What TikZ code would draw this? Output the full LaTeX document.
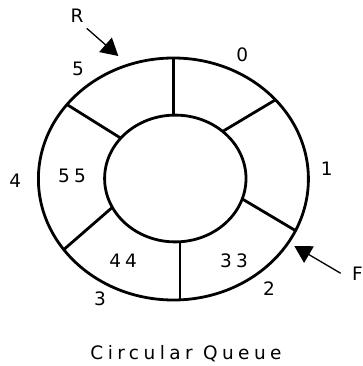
\documentclass[tikz,border=0pt]{standalone}
\usepackage{fontspec}
\setmainfont{DejaVu Sans}
\usetikzlibrary{arrows.meta,calc}
\begin{document}
\begin{tikzpicture}[x=1pt,y=-1pt,
  ring/.style={line width=2.8pt},
  lbl/.style={inner sep=0pt, font=\fontsize{18.5}{22}\selectfont},
  val/.style={inner sep=0pt, font=\fontsize{18.5}{22}\selectfont\addfontfeature{LetterSpace=22}},
  captext/.style={inner sep=0pt, font=\fontsize{18.5}{22}\selectfont\addfontfeature{LetterSpace=24}},
  ptr/.style={line width=1.3pt, -{Triangle[length=17pt,width=19pt]}}]
\useasboundingbox (0,0) rectangle (363,366);
% spokes, clipped to the outer ellipse
\begin{scope}
  \clip (173.4,179) ellipse [x radius=135pt, y radius=121pt];
  \coordinate (p1) at (173.5,57.7);  \coordinate (q1) at (173.5,115);
  \coordinate (p2) at (274,100.7);   \coordinate (q2) at (226.7,129);
  \coordinate (p3) at (293.3,229.3); \coordinate (q3) at (245.7,201);
  \coordinate (p4) at (180,300);     \coordinate (q4) at (180,241.7);
  \coordinate (p5) at (63.3,250);    \coordinate (q5) at (109.3,210);
  \coordinate (p6) at (69.3,106);    \coordinate (q6) at (117.3,136);
  \foreach \i in {1,...,6}{
    \draw[ring] ($(p\i)!1.3!(q\i)$) -- ($(p\i)!-0.3!(q\i)$);
  }
\end{scope}
\draw[ring] (173.4,179) ellipse [x radius=135pt, y radius=121pt];
\filldraw[ring, fill=white] (175.3,178.5) ellipse [x radius=70.7pt, y radius=63.4pt];
% labels
\node[lbl] (lR) at (77,16) {R};
\node[lbl] (l0) at (242.3,54.7) {0};
\node[lbl] (l5) at (78,69.2) {5};
\node[lbl] (l1) at (326.7,169.2) {1};
\node[lbl] (l4) at (15.3,181.2) {4};
\node[lbl] (l3) at (100,299) {3};
\node[lbl] (l2) at (269,288.3) {2};
\node[lbl, anchor=east] (lF) at (363,273.3) {F};
\node[val] (v55) at (72,175.8) {55};
\node[val] (v44) at (123.2,260.8) {44};
\node[val] (v33) at (234,260.8) {33};
\node[captext, anchor=base] (title) at (186,359) {Circular Queue};
% pointers
\coordinate (rs) at (86.7,28.3); \coordinate (rt) at (118.3,56);
\coordinate (fs) at (340.7,273.3); \coordinate (ft) at (294.3,246);
\draw[ptr] (rs) -- (rt);
\draw[ptr] (fs) -- (ft);
\end{tikzpicture}
\end{document}
